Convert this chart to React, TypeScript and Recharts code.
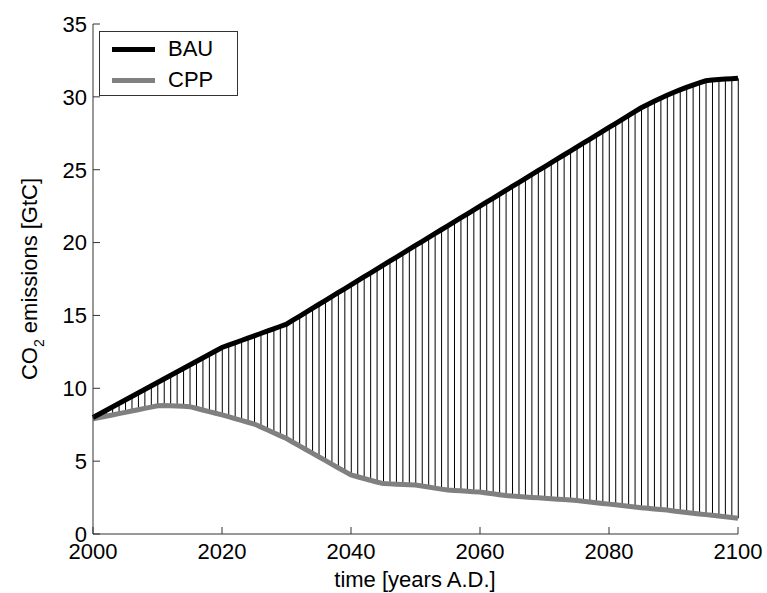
import {
  ComposedChart, Bar, Line, XAxis, YAxis,
} from 'recharts';

const FONT = '"Liberation Sans", Arial, Helvetica, sans-serif';

// years 2000..2100, one hatch line per year
const years = Array.from({ length: 101 }, (_, i) => 2000 + i);

// business as usual emissions [GtC]
const bau = [
  8.00, 8.24, 8.48, 8.72, 8.96, 9.20, 9.44, 9.68, 9.92, 10.16,
  10.40, 10.64, 10.88, 11.12, 11.36, 11.60, 11.84, 12.08, 12.32, 12.56,
  12.80, 12.96, 13.12, 13.28, 13.44, 13.60, 13.76, 13.92, 14.08, 14.24,
  14.40, 14.67, 14.94, 15.21, 15.48, 15.75, 16.02, 16.29, 16.56, 16.83,
  17.10, 17.37, 17.64, 17.91, 18.18, 18.45, 18.72, 18.99, 19.26, 19.53,
  19.80, 20.07, 20.34, 20.61, 20.88, 21.15, 21.42, 21.69, 21.96, 22.23,
  22.50, 22.77, 23.04, 23.31, 23.58, 23.85, 24.12, 24.39, 24.66, 24.93,
  25.20, 25.47, 25.74, 26.01, 26.28, 26.55, 26.82, 27.09, 27.36, 27.63,
  27.90, 28.17, 28.44, 28.71, 28.98, 29.25, 29.48, 29.70, 29.91, 30.11,
  30.30, 30.48, 30.65, 30.81, 30.96, 31.10, 31.15, 31.19, 31.22, 31.25,
  31.28,
];

// climate protection path emissions [GtC]
const cpp = [
  7.90, 7.99, 8.08, 8.17, 8.26, 8.35, 8.44, 8.53, 8.62, 8.71,
  8.80, 8.82, 8.80, 8.78, 8.76, 8.74, 8.63, 8.51, 8.40, 8.29,
  8.18, 8.05, 7.92, 7.80, 7.67, 7.55, 7.35, 7.15, 6.95, 6.75,
  6.55, 6.30, 6.05, 5.80, 5.55, 5.30, 5.05, 4.80, 4.55, 4.30,
  4.05, 3.93, 3.81, 3.69, 3.57, 3.46, 3.44, 3.42, 3.40, 3.38,
  3.36, 3.29, 3.22, 3.15, 3.08, 3.02, 2.99, 2.96, 2.93, 2.90,
  2.88, 2.82, 2.76, 2.70, 2.64, 2.60, 2.57, 2.54, 2.51, 2.48,
  2.45, 2.42, 2.39, 2.36, 2.33, 2.30, 2.25, 2.20, 2.15, 2.10,
  2.05, 2.00, 1.95, 1.90, 1.85, 1.80, 1.76, 1.72, 1.68, 1.64,
  1.58, 1.53, 1.48, 1.43, 1.38, 1.33, 1.28, 1.23, 1.18, 1.13,
  1.08,
];

const xTicks = [2000, 2020, 2040, 2060, 2080, 2100];
const yTicks = [0, 5, 10, 15, 20, 25, 30, 35];

const data = years.map((year, i) => ({
  year,
  bau: bau[i],
  cpp: cpp[i],
  band: [cpp[i], bau[i]],
}));

const tickStyle = { fontSize: 22, fill: '#000', fontFamily: FONT };
const axisColor = '#333';

export default function App() {
  return (
    <div style={{ position: 'absolute', left: 0, top: 0, width: 767, height: 593, background: '#fff', fontFamily: FONT }}>
      <ComposedChart
        width={767}
        height={593}
        data={data}
        margin={{ top: 24, right: 29, bottom: 0, left: 0 }}
      >
        <XAxis
          dataKey="year"
          type="number"
          domain={[2000, 2100]}
          ticks={xTicks}
          height={59}
          tick={tickStyle}
          tickSize={-7}
          tickMargin={16}
          stroke={axisColor}
          label={{
            content: () => (
              <text x={415} y={587} textAnchor="middle" fontSize={22} fontFamily={FONT} fill="#000">
                time [years A.D.]
              </text>
            ),
          }}
        />
        <XAxis
          xAxisId="top"
          orientation="top"
          dataKey="year"
          type="number"
          domain={[2000, 2100]}
          ticks={xTicks}
          height={0}
          tick={false}
          tickSize={-7}
          stroke={axisColor}
        />
        <YAxis
          type="number"
          domain={[0, 35]}
          ticks={yTicks}
          width={93}
          tick={tickStyle}
          tickSize={-7}
          tickMargin={13}
          stroke={axisColor}
          label={{
            content: () => (
              <text
                x={37}
                y={279}
                transform="rotate(-90 37 279)"
                textAnchor="middle"
                fontSize={22}
                fontFamily={FONT}
                fill="#000"
              >
                CO<tspan fontSize={14} dy={7}>2</tspan>
                <tspan dy={-7}> emissions [GtC]</tspan>
              </text>
            ),
          }}
        />
        <YAxis
          yAxisId="r"
          orientation="right"
          type="number"
          domain={[0, 35]}
          ticks={yTicks}
          width={0}
          tick={false}
          tickSize={-7}
          stroke={axisColor}
        />
        {/* vertical hatching between the two paths */}
        <Bar dataKey="band" barSize={1} fill="#000" isAnimationActive={false} />
        <Line type="linear" dataKey="cpp" stroke="#808080" strokeWidth={5} dot={false} isAnimationActive={false} />
        <Line type="linear" dataKey="bau" stroke="#000" strokeWidth={5} dot={false} isAnimationActive={false} />
      </ComposedChart>

      {/* legend box, top-left inside the axes */}
      <div
        style={{
          position: 'absolute', left: 99, top: 31, width: 139, height: 65,
          border: `1px solid ${axisColor}`, background: '#fff', boxSizing: 'border-box',
          fontSize: 22, color: '#000',
        }}
      >
        {[
          { name: 'BAU', color: '#000', top: 2 },
          { name: 'CPP', color: '#808080', top: 33 },
        ].map((d) => (
          <div key={d.name} style={{ position: 'absolute', left: 12, top: d.top, height: 30, display: 'flex', alignItems: 'center' }}>
            <div style={{ width: 43, height: 5, background: d.color }} />
            <span style={{ marginLeft: 13, lineHeight: '30px' }}>{d.name}</span>
          </div>
        ))}
      </div>
    </div>
  );
}
